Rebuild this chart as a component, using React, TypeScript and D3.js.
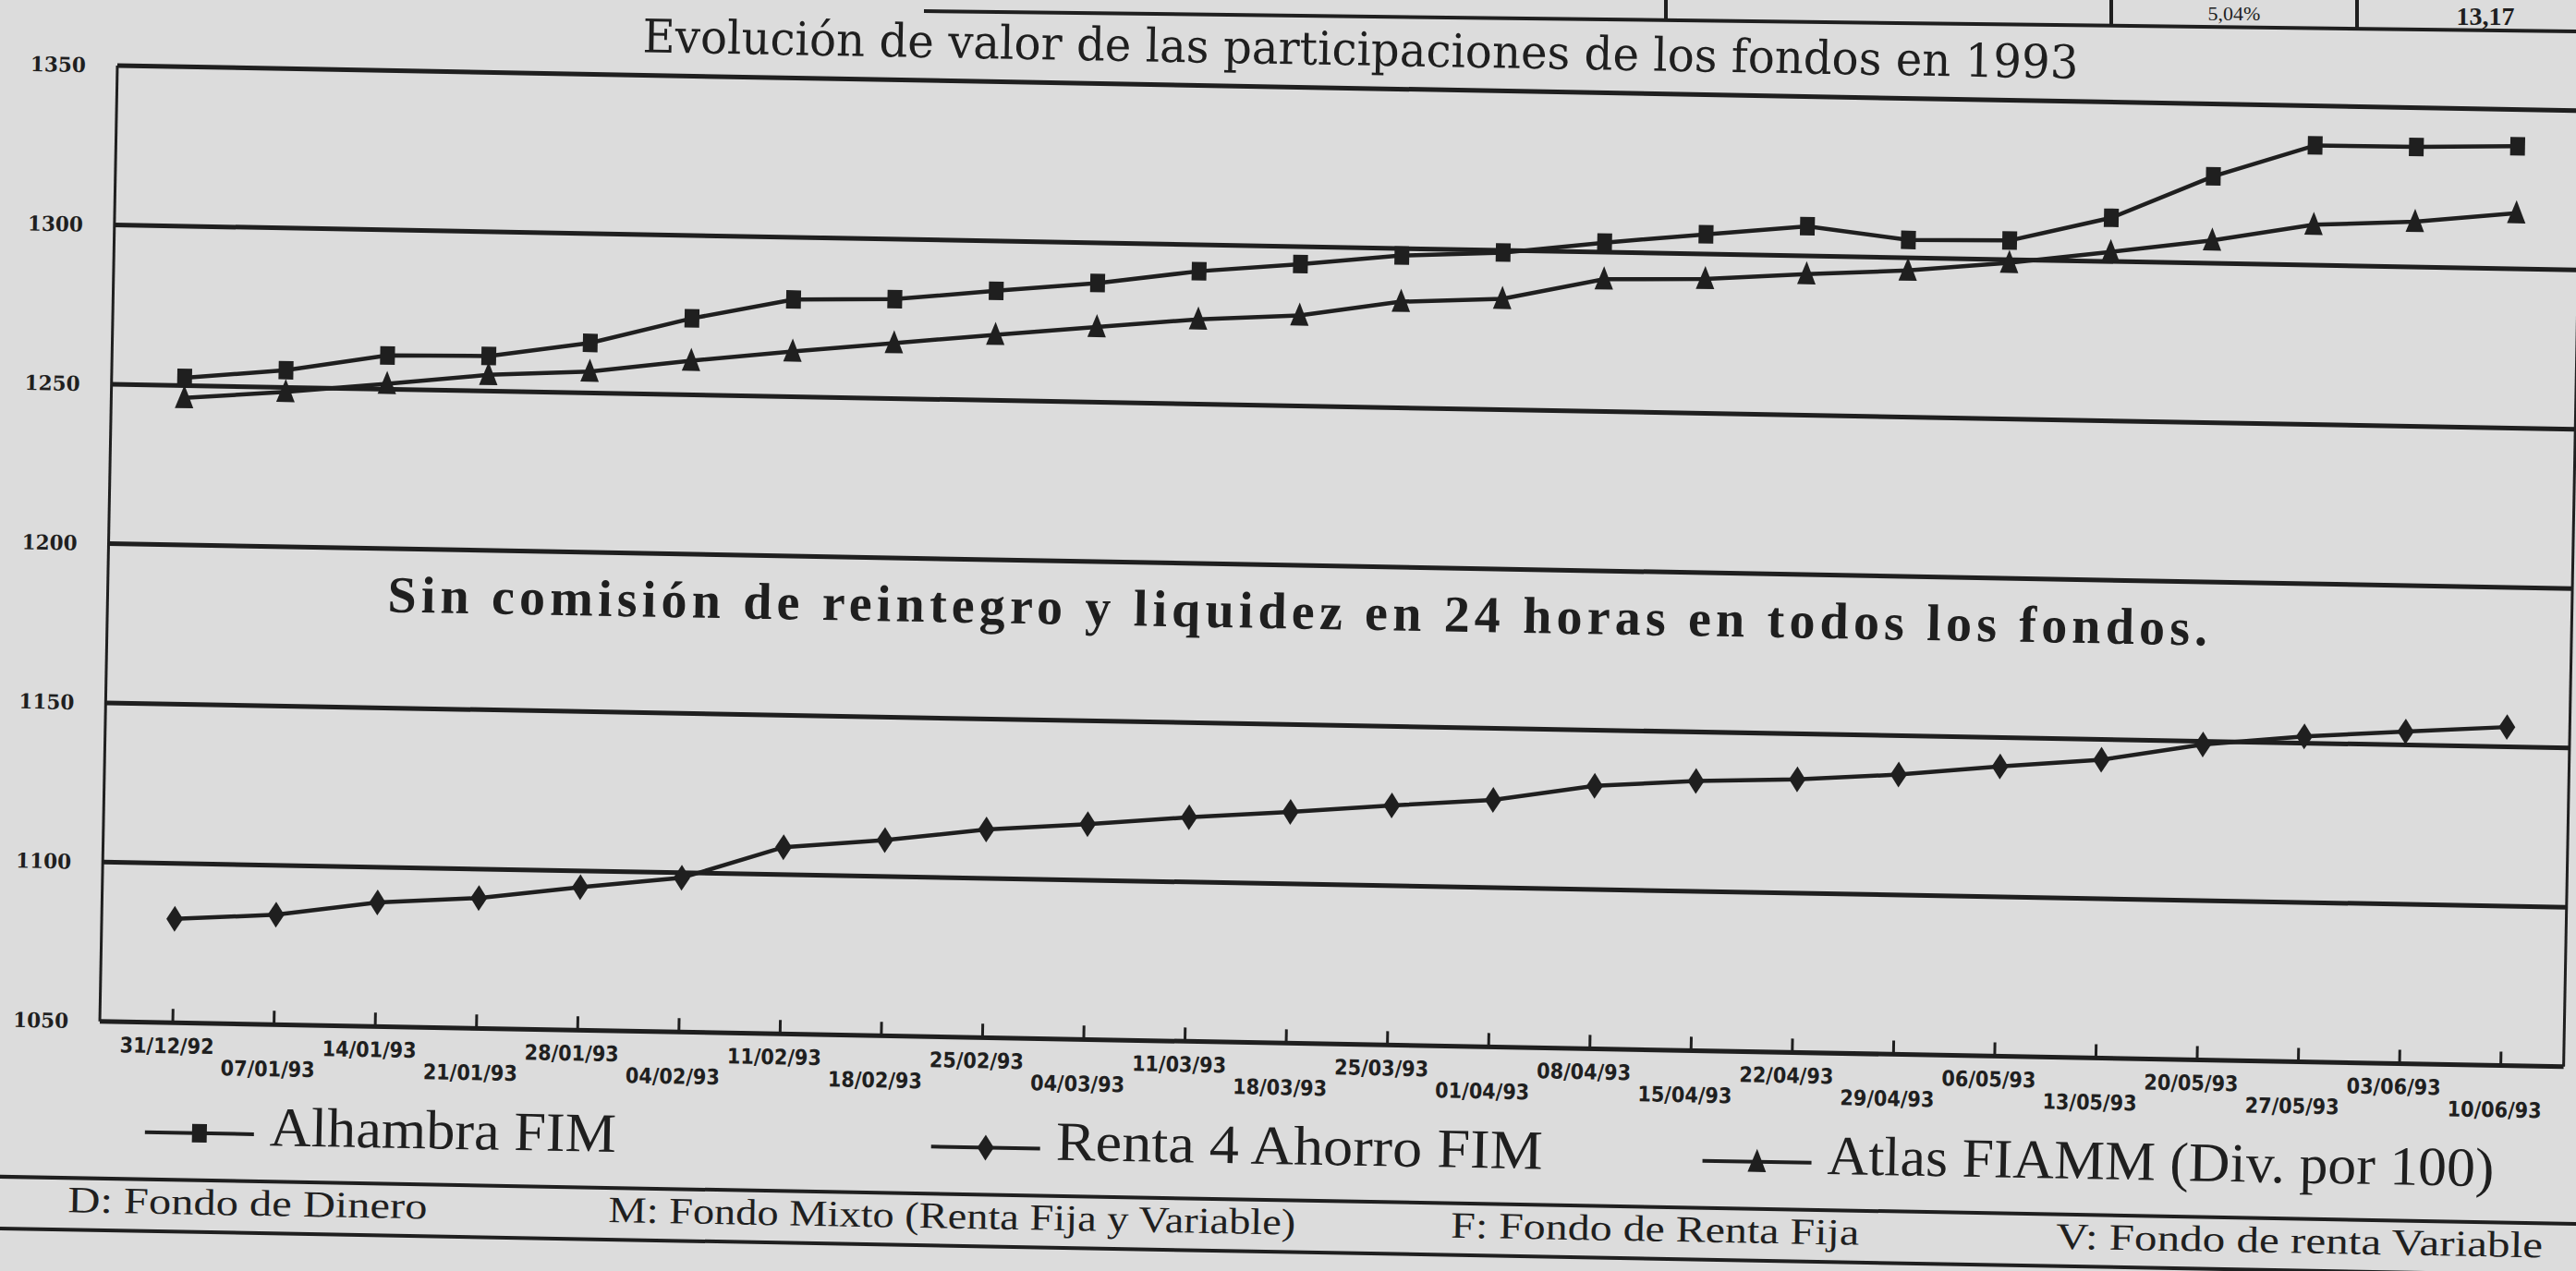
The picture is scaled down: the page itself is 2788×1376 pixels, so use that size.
import React from "react";
import * as d3 from "d3";

// fechas semanales (eje x)
const dates = [
  "31/12/92", "07/01/93", "14/01/93", "21/01/93", "28/01/93", "04/02/93",
  "11/02/93", "18/02/93", "25/02/93", "04/03/93", "11/03/93", "18/03/93",
  "25/03/93", "01/04/93", "08/04/93", "15/04/93", "22/04/93", "29/04/93",
  "06/05/93", "13/05/93", "20/05/93", "27/05/93", "03/06/93", "10/06/93",
];

const alhambra = [
  1252.4, 1255.4, 1260.6, 1261, 1265.7, 1274, 1280.5, 1281.2, 1284.4, 1287.4,
  1291.7, 1294.5, 1297.8, 1299.3, 1303, 1306.2, 1309.3, 1305.6, 1306, 1313.7,
  1327.3, 1337.6, 1337.7, 1338.5,
];

const renta4 = [
  1082.6, 1084.5, 1088.9, 1090.9, 1094.9, 1098.4, 1108.6, 1111.4, 1115.3, 1117.6,
  1120.3, 1122.6, 1125.2, 1127.5, 1132.5, 1134.6, 1135.7, 1137.8, 1140.9, 1143.6,
  1149, 1152.1, 1154.2, 1156.2,
];

// Atlas FIAMM dividido por 100
const atlas = [
  1246.1, 1248.6, 1251.7, 1255.1, 1256.7, 1260.7, 1264.2, 1267.4, 1270.6, 1273.6,
  1276.6, 1278.4, 1283.3, 1284.8, 1291.5, 1292.2, 1294.3, 1296, 1299, 1303,
  1307.2, 1312.7, 1314.2, 1317.5,
];

const yTicks = [1050, 1100, 1150, 1200, 1250, 1300, 1350];

const footerNotes = [
  "D: Fondo de Dinero",
  "M: Fondo Mixto (Renta Fija y Variable)",
  "F: Fondo de Renta Fija",
  "V: Fondo de renta Variable",
];

const W = 2788;
const H = 1376;
const INK = "#1f1f1f";
const PAPER = "#dcdcdc";

// el recorte está ligeramente girado
const TILT = 1.05;
const left = 127, top = 71, right = 2794, bottom = 1106;

const x = d3.scalePoint<string>().domain(dates).range([left + 79, right - 68]);
const y = d3.scaleLinear().domain([1050, 1350]).range([bottom, top]);

const markers: Record<string, string> = {
  square: "M-8,-10h16v20h-16z",
  diamond: "M0,-14L9,0L0,14L-9,0Z",
  triangle: "M0,-14L10,11H-10Z",
};

const series = [
  { name: "Alhambra FIM", values: alhambra, marker: "square" },
  { name: "Renta 4 Ahorro FIM", values: renta4, marker: "diamond" },
  { name: "Atlas FIAMM (Div. por 100)", values: atlas, marker: "triangle" },
];

const legendX = [178, 1029, 1864];
const legendW = [375, 527, 722];
const footerX = [96, 681, 1593, 2248];
const footerW = [389, 744, 442, 527];

const serif = "'Liberation Serif', 'Times New Roman', serif";

export default function App() {
  const line = d3
    .line<number>()
    .x((d, i) => x(dates[i]) as number)
    .y(d => y(d));

  return (
    <svg
      width={W}
      height={H}
      viewBox={`0 0 ${W} ${H}`}
      style={{ position: "absolute", left: 0, top: 0, display: "block" }}
    >
      <rect width={W} height={H} fill={PAPER} />

      {/* borde de la tabla superior, cortado */}
      <g stroke={INK} strokeWidth={4}>
        <line x1={1000} y1={12} x2={W} y2={34} />
        <line x1={1803} y1={0} x2={1803} y2={22} />
        <line x1={2285} y1={0} x2={2285} y2={28} />
        <line x1={2551} y1={0} x2={2551} y2={31} />
      </g>
      <text x={2418} y={22} fontFamily={serif} fontSize={22} fill={INK} textAnchor="middle">5,04%</text>
      <text x={2690} y={27} fontFamily={serif} fontSize={28} fontWeight="bold" fill={INK} textAnchor="middle">13,17</text>

      <g transform={`rotate(${TILT}, ${left}, ${top})`} fill="none">
        {/* rejilla */}
        {yTicks.map(t => (
          <line key={t} x1={left} x2={right} y1={y(t)} y2={y(t)} stroke={INK} strokeWidth={5} />
        ))}
        <line x1={left} x2={left} y1={top} y2={bottom} stroke={INK} strokeWidth={3} />
        <line x1={right} x2={right} y1={top} y2={bottom} stroke={INK} strokeWidth={3} />

        {yTicks.map(t => (
          <text
            key={t}
            x={93}
            y={y(t)}
            dy="0.35em"
            textAnchor="end"
            fontFamily="'DejaVu Serif', serif"
            fontWeight="bold"
            fontSize={22}
            textLength={60}
            lengthAdjust="spacingAndGlyphs"
            fill={INK}
          >
            {t}
          </text>
        ))}

        {/* eje x */}
        {dates.map((d, i) => (
          <g key={d}>
            <line x1={x(d)} x2={x(d)} y1={bottom} y2={bottom - 15} stroke={INK} strokeWidth={3} />
            <text
              x={(x(d) as number) - 6}
              y={bottom + (i % 2 === 0 ? 33 : 56)}
              textAnchor="middle"
              fontFamily="'DejaVu Sans Condensed', 'DejaVu Sans', sans-serif"
              fontWeight="bold"
              fontSize={23}
              textLength={102}
              lengthAdjust="spacingAndGlyphs"
              fill={INK}
            >
              {d}
            </text>
          </g>
        ))}

        <text
          x={1472}
          y={46}
          textAnchor="middle"
          fontFamily="'DejaVu Serif', serif"
          fontSize={50}
          textLength={1554}
          lengthAdjust="spacingAndGlyphs"
          fill={INK}
        >
          Evolución de valor de las participaciones de los fondos en 1993
        </text>

        <text
          x={1415}
          y={657}
          textAnchor="middle"
          fontFamily={serif}
          fontWeight="bold"
          fontSize={56}
          textLength={1970}
          lengthAdjust="spacing"
          fill={INK}
        >
          Sin comisión de reintegro y liquidez en 24 horas en todos los fondos.
        </text>

        {/* series */}
        {series.map(s => (
          <g key={s.name}>
            <path d={line(s.values) as string} stroke={INK} strokeWidth={4.5} />
            {s.values.map((v, i) => (
              <path
                key={i}
                d={markers[s.marker]}
                transform={`translate(${x(dates[i])},${y(v)})`}
                fill={INK}
              />
            ))}
          </g>
        ))}

        {/* leyenda */}
        {series.map((s, i) => (
          <g key={s.name} transform={`translate(${legendX[i]},1237)`}>
            <line x1={0} x2={118} y1={-12} y2={-12} stroke={INK} strokeWidth={4} />
            <path d={markers[s.marker]} transform="translate(59,-12)" fill={INK} />
            <text
              x={135}
              y={0}
              fontFamily={serif}
              fontSize={60}
              textLength={legendW[i]}
              lengthAdjust="spacingAndGlyphs"
              fill={INK}
            >
              {s.name}
            </text>
          </g>
        ))}

        {/* notas al pie */}
        <line x1={-60} x2={2900} y1={1276} y2={1276} stroke={INK} strokeWidth={4} />
        <line x1={-60} x2={2900} y1={1332} y2={1332} stroke={INK} strokeWidth={4} />
        {footerNotes.map((n, i) => (
          <text
            key={n}
            x={footerX[i]}
            y={1313}
            fontFamily={serif}
            fontSize={40}
            textLength={footerW[i]}
            lengthAdjust="spacingAndGlyphs"
            fill={INK}
          >
            {n}
          </text>
        ))}
      </g>
    </svg>
  );
}
